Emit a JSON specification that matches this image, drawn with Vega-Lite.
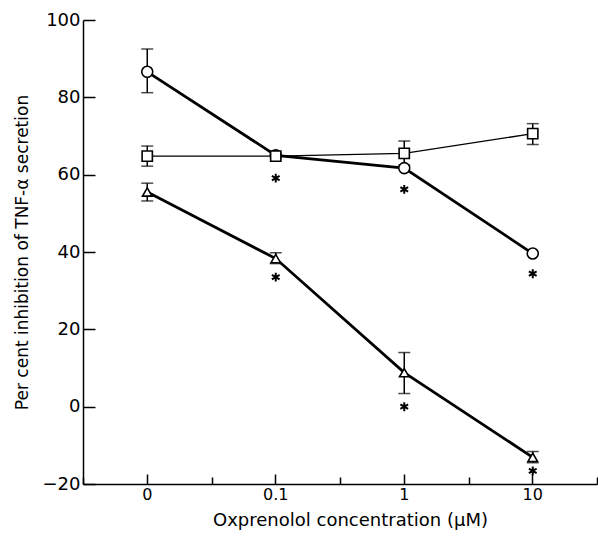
{
  "$schema": "https://vega.github.io/schema/vega-lite/v6.json",
  "width": 514,
  "height": 464,
  "autosize": "none",
  "padding": {"left": 83, "top": 20, "right": 1, "bottom": 54},
  "background": "white",
  "config": {
    "view": {"stroke": null},
    "font": "DejaVu Sans",
    "axis": {
      "grid": false,
      "domainColor": "black",
      "domainWidth": 1.5,
      "tickColor": "black",
      "tickWidth": 1.5,
      "labelColor": "black",
      "titleColor": "black",
      "labelFont": "DejaVu Sans",
      "titleFont": "DejaVu Sans",
      "titleFontWeight": "normal"
    }
  },
  "datasets": {
    "means": [
      {"conc": "0", "series": "A", "value": 86.6},
      {"conc": "0.1", "series": "A", "value": 65.0},
      {"conc": "1", "series": "A", "value": 61.7},
      {"conc": "10", "series": "A", "value": 39.6},
      {"conc": "0", "series": "B", "value": 64.8},
      {"conc": "0.1", "series": "B", "value": 64.8},
      {"conc": "1", "series": "B", "value": 65.5},
      {"conc": "10", "series": "B", "value": 70.6},
      {"conc": "0", "series": "C", "value": 55.5},
      {"conc": "0.1", "series": "C", "value": 38.3},
      {"conc": "1", "series": "C", "value": 8.8},
      {"conc": "10", "series": "C", "value": -13.1}
    ],
    "errors": [
      {"conc": "0", "series": "A", "lo": 81.2, "hi": 92.5},
      {"conc": "0", "series": "B", "lo": 62.2, "hi": 67.4},
      {"conc": "1", "series": "B", "lo": 62.5, "hi": 68.7},
      {"conc": "10", "series": "B", "lo": 67.8, "hi": 73.2},
      {"conc": "0", "series": "C", "lo": 53.2, "hi": 57.8},
      {"conc": "0.1", "series": "C", "lo": 37.0, "hi": 39.8},
      {"conc": "1", "series": "C", "lo": 3.4, "hi": 14.0},
      {"conc": "10", "series": "C", "lo": -14.5, "hi": -11.6}
    ],
    "stars": [
      {"conc": "0.1", "value": 59.1},
      {"conc": "0.1", "value": 33.5},
      {"conc": "1", "value": 56.2},
      {"conc": "1", "value": 0.0},
      {"conc": "10", "value": 34.4},
      {"conc": "10", "value": -16.6}
    ]
  },
  "resolve": {"axis": {"x": "independent"}},
  "layer": [
    {
      "data": {"name": "errors"},
      "mark": {"type": "rule", "color": "black", "strokeWidth": 1.5},
      "encoding": {
        "x": {"field": "conc", "type": "nominal", "sort": ["0", "0.1", "1", "10"],
              "scale": {"type": "band", "domain": ["0", "0.1", "1", "10"], "paddingInner": 0, "paddingOuter": 0},
              "axis": {"orient": "bottom", "tickBand": "extent", "tickExtra": true, "labels": false, "domain": false, "title": null, "tickSize": -7}},
        "y": {"field": "lo", "type": "quantitative", "title": "Per cent inhibition of TNF-α secretion"},
        "y2": {"field": "hi"}
      }
    },
    {
      "data": {"name": "errors"},
      "mark": {"type": "tick", "color": "black", "size": 12, "thickness": 1.5, "orient": "horizontal"},
      "encoding": {
        "x": {"field": "conc", "type": "nominal", "axis": null},
        "y": {"field": "lo", "type": "quantitative", "title": "Per cent inhibition of TNF-α secretion"}
      }
    },
    {
      "data": {"name": "errors"},
      "mark": {"type": "tick", "color": "black", "size": 12, "thickness": 1.5, "orient": "horizontal"},
      "encoding": {
        "x": {"field": "conc", "type": "nominal", "axis": null},
        "y": {"field": "hi", "type": "quantitative", "title": "Per cent inhibition of TNF-α secretion"}
      }
    },
    {
      "data": {"name": "means"},
      "mark": {"type": "line", "color": "black"},
      "encoding": {
        "x": {"field": "conc", "type": "nominal", "sort": ["0", "0.1", "1", "10"],
              "axis": {"orient": "bottom", "title": "Oxprenolol concentration (μM)", "labelAngle": 0,
                       "labelFontSize": 16, "titleFontSize": 18, "tickSize": -10, "labelPadding": 12, "titlePadding": 9,
                       "titleAnchor": "middle", "titleX": 267}},
        "y": {"field": "value", "type": "quantitative", "title": "Per cent inhibition of TNF-α secretion",
              "scale": {"domain": [-20, 100], "nice": false, "zero": false},
              "axis": {"values": [-20, -10, 0, 10, 20, 30, 40, 50, 60, 70, 80, 90, 100],
                       "labelExpr": "datum.value % 20 == 0 ? datum.label : ''",
                       "tickSize": {"condition": {"test": "datum.value % 20 == 0", "value": -12}, "value": -8},
                       "labelFontSize": 18, "labelPadding": 15, "titleFontSize": 17, "titlePadding": 11}},
        "detail": {"field": "series"},
        "strokeWidth": {"field": "series", "type": "nominal", "scale": {"type": "ordinal", "domain": ["A", "B", "C"], "range": [2.8, 1.3, 2.8]}, "legend": null}
      }
    },
    {
      "data": {"name": "means"},
      "mark": {"type": "point", "filled": true, "fill": "white", "stroke": "black", "strokeWidth": 1.6, "opacity": 1},
      "encoding": {
        "x": {"field": "conc", "type": "nominal", "axis": null},
        "y": {"field": "value", "type": "quantitative", "title": "Per cent inhibition of TNF-α secretion"},
        "shape": {"field": "series", "type": "nominal", "scale": {"domain": ["A", "B", "C"], "range": ["circle", "square", "triangle-up"]}, "legend": null},
        "size": {"field": "series", "type": "nominal", "scale": {"type": "ordinal", "domain": ["A", "B", "C"], "range": [121, 105, 90]}, "legend": null}
      }
    },
    {
      "data": {"name": "stars"},
      "mark": {"type": "point", "shape": "M0,-1L0,1M-0.866,-0.5L0.866,0.5M-0.866,0.5L0.866,-0.5", "size": 80, "filled": false, "stroke": "black", "strokeWidth": 2, "opacity": 1},
      "encoding": {
        "x": {"field": "conc", "type": "nominal", "axis": null},
        "y": {"field": "value", "type": "quantitative", "title": "Per cent inhibition of TNF-α secretion"}
      }
    }
  ]
}
